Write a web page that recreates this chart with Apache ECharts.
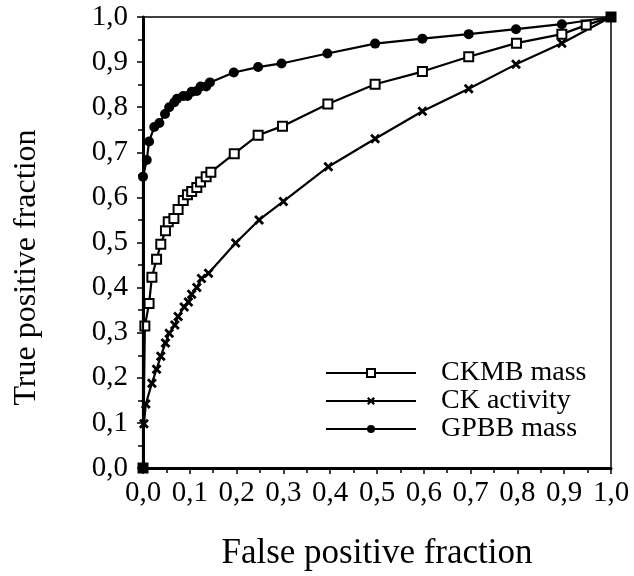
<!DOCTYPE html>
<html>
<head>
<meta charset="utf-8">
<script src="https://cdn.jsdelivr.net/npm/echarts@6/dist/echarts.min.js"></script>
<style>
html,body{margin:0;padding:0;background:#fff;}
#chart{width:634px;height:576px;}
</style>
</head>
<body>
<div id="chart"></div>
<script>
var tickLabels = ['0,0','0,1','0,2','0,3','0,4','0,5','0,6','0,7','0,8','0,9','1,0'];
var seriesNames = ['CKMB mass','CK activity','GPBB mass'];

var ckmbX = [0, 0.004, 0.013, 0.019, 0.029, 0.038, 0.048, 0.054, 0.066, 0.075, 0.086, 0.095, 0.104, 0.115, 0.123, 0.135, 0.145, 0.195, 0.246, 0.298, 0.395, 0.496, 0.597, 0.696, 0.798, 0.895, 0.947, 1.0];
var ckmbY = [0, 0.315, 0.365, 0.423, 0.463, 0.496, 0.526, 0.546, 0.553, 0.573, 0.593, 0.606, 0.613, 0.622, 0.634, 0.646, 0.656, 0.697, 0.738, 0.758, 0.807, 0.851, 0.879, 0.912, 0.942, 0.962, 0.982, 1.0];

var ckX = [0, 0.002, 0.006, 0.019, 0.029, 0.038, 0.048, 0.056, 0.068, 0.075, 0.088, 0.097, 0.104, 0.115, 0.125, 0.140, 0.198, 0.248, 0.300, 0.396, 0.496, 0.597, 0.696, 0.797, 0.895, 1.0];
var ckY = [0, 0.098, 0.142, 0.188, 0.219, 0.248, 0.277, 0.299, 0.317, 0.336, 0.357, 0.368, 0.385, 0.400, 0.420, 0.432, 0.499, 0.550, 0.591, 0.668, 0.730, 0.791, 0.841, 0.895, 0.942, 1.0];

var gpbbX = [0, 0, 0.008, 0.013, 0.024, 0.035, 0.047, 0.056, 0.067, 0.073, 0.086, 0.095, 0.104, 0.115, 0.123, 0.135, 0.143, 0.194, 0.246, 0.296, 0.394, 0.496, 0.597, 0.696, 0.797, 0.895, 1.0];
var gpbbY = [0, 0.646, 0.683, 0.724, 0.756, 0.765, 0.785, 0.800, 0.811, 0.819, 0.825, 0.825, 0.834, 0.836, 0.846, 0.846, 0.855, 0.877, 0.889, 0.897, 0.919, 0.941, 0.952, 0.962, 0.973, 0.984, 1.0];

function pairs(xs, ys){ return xs.map(function(x,i){ return [x, ys[i]]; }); }

var FONT = 'Liberation Serif, Times New Roman, serif';
var crossPath = 'path://M0,2L2,0L5,3L8,0L10,2L7,5L10,8L8,10L5,7L2,10L0,8L3,5Z';

function fmt(v){ return tickLabels[Math.round(v*10)]; }

var axisCommon = {
  type: 'value', min: 0, max: 1, interval: 0.1,
  splitLine: {show: false},
  axisTick: {show: true, inside: false, length: 6, lineStyle: {color: '#000', width: 1.5}},
  minorTick: {show: true, splitNumber: 2, length: 5, lineStyle: {color: '#000', width: 1.5}},
  axisLabel: {color: '#000', fontFamily: FONT, fontSize: 29, formatter: fmt},
  nameTextStyle: {color: '#000', fontFamily: FONT},
  axisLine: {show: true, onZero: false, lineStyle: {color: '#000', width: 3}}
};

var chart = echarts.init(document.getElementById('chart'), null, {renderer: 'canvas'});
chart.setOption({
  animation: false,
  backgroundColor: '#fff',
  grid: {left: 143, top: 17, right: 23, bottom: 103, show: true, borderColor: '#000', borderWidth: 1.5, backgroundColor: 'transparent'},
  xAxis: Object.assign({}, axisCommon, {
    name: 'False positive fraction', nameLocation: 'middle', nameGap: 68,
    nameTextStyle: {color: '#000', fontFamily: FONT, fontSize: 35},
    axisLabel: Object.assign({}, axisCommon.axisLabel, {margin: 11})
  }),
  yAxis: Object.assign({}, axisCommon, {
    name: 'True positive fraction', nameLocation: 'middle', nameGap: 100,
    nameTextStyle: {color: '#000', fontFamily: FONT, fontSize: 32, padding: [0, 50, 0, 0]},
    axisLabel: Object.assign({}, axisCommon.axisLabel, {margin: 15})
  }),
  legend: {
    orient: 'vertical', left: 325, top: 359, padding: 0, itemGap: 0,
    itemWidth: 90, itemHeight: 10,
    data: seriesNames,
    textStyle: {color: '#000', fontFamily: FONT, fontSize: 28, lineHeight: 27, padding: [0,0,0,20]}
  },
  series: [
    {
      name: seriesNames[0], type: 'line', data: pairs(ckmbX, ckmbY), clip: false,
      symbol: 'rect', symbolSize: 9,
      lineStyle: {color: '#000', width: 2.2},
      itemStyle: {color: '#fff', borderColor: '#000', borderWidth: 2},
      z: 2
    },
    {
      name: seriesNames[1], type: 'line', data: pairs(ckX, ckY), clip: false,
      symbol: crossPath, symbolSize: 10,
      lineStyle: {color: '#000', width: 2.2},
      itemStyle: {color: '#000', borderWidth: 0},
      z: 2
    },
    {
      name: seriesNames[2], type: 'line', data: pairs(gpbbX, gpbbY), clip: false,
      symbol: 'circle', symbolSize: 10,
      lineStyle: {color: '#000', width: 2.2},
      itemStyle: {color: '#000', borderWidth: 0},
      z: 3
    }
  ]
});
</script>
</body>
</html>
